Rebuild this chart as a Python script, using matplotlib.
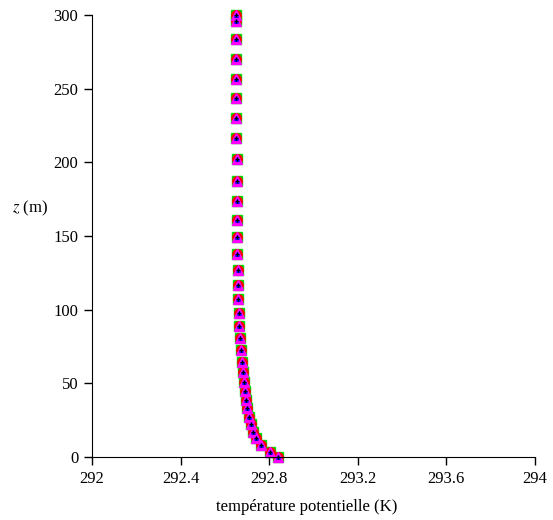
import numpy as np
import matplotlib.pyplot as plt

plt.rcParams['font.family'] = ['Liberation Serif', 'DejaVu Serif']
plt.rcParams['mathtext.fontset'] = 'stix'

# profil de température potentielle (K) en fonction de z (m)
z = [300.0, 296.0, 283.7, 270.0, 256.5, 243.4, 229.8, 216.3, 202.0, 187.5,
     174.0, 161.0, 149.0, 137.6, 127.0, 116.7, 107.0, 97.7, 89.0, 80.6,
     72.6, 64.7, 57.9, 51.1, 45.0, 38.7, 33.0, 27.4, 22.4, 17.2,
     12.7, 8.1, 3.6, 0.2]
theta = [292.649, 292.649, 292.650, 292.650, 292.651, 292.651, 292.652, 292.652,
         292.653, 292.653, 292.654, 292.654, 292.655, 292.656, 292.657, 292.658,
         292.660, 292.662, 292.665, 292.668, 292.672, 292.676, 292.680, 292.684,
         292.689, 292.695, 292.701, 292.709, 292.718, 292.728, 292.741, 292.761,
         292.805, 292.841]

x_ticks = [292, 292.4, 292.8, 293.2, 293.6, 294]
y_ticks = [0, 50, 100, 150, 200, 250, 300]

fig = plt.figure(figsize=(5.53, 5.20), dpi=100)
ax = fig.add_axes([0.1664, 0.1212, 0.801, 0.850])

# plusieurs séries superposées (mêmes valeurs)
ax.plot(theta, z, 's', color='#00dd00', ms=6.5, mec='#00dd00', clip_on=False)
ax.plot(theta, z, 'o', color='red', ms=6.8, mec='red', clip_on=False)
ax.plot(theta, z, '^', color='magenta', ms=6.5, mec='magenta', clip_on=False)
ax.plot(theta, z, '^', color='blue', ms=2.5, mec='blue', clip_on=False)
ax.plot(theta, z, '+', color='black', ms=3, mew=0.8, clip_on=False)

ax.set_xlim(292, 294)
ax.set_ylim(0, 300)
ax.set_xticks(x_ticks)
ax.set_xticklabels(['292', '292.4', '292.8', '293.2', '293.6', '294'])
ax.set_yticks(y_ticks)
ax.tick_params(direction='out', length=5.5, width=1, labelsize=12, pad=4.5)

for s in ['top', 'right']:
    ax.spines[s].set_visible(False)

ax.set_xlabel('température potentielle (K)', fontsize=12, labelpad=8)
ax.xaxis.set_label_coords(0.485, -0.095)
ax.set_ylabel('$z$ (m)', fontsize=12, rotation=0, va='center', ha='center')
ax.yaxis.set_label_coords(-0.14, 0.563)

fig.savefig('out.png', dpi=100)
